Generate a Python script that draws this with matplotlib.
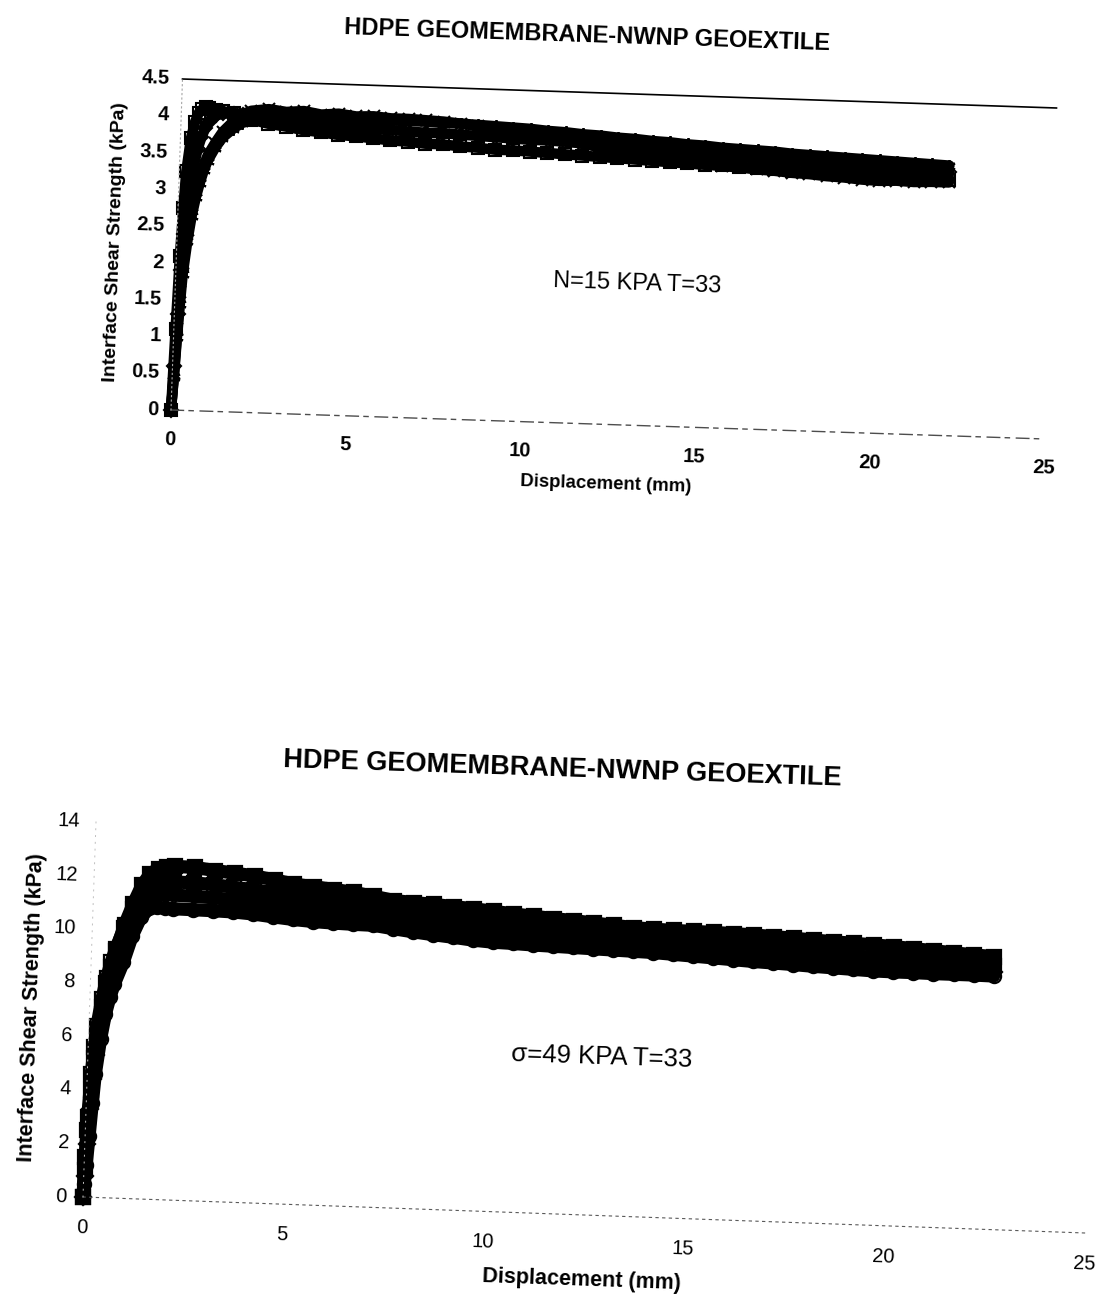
import numpy as np
import matplotlib
matplotlib.use("Agg")
import matplotlib.pyplot as plt
from matplotlib.transforms import Affine2D
import mpl_toolkits.axisartist.floating_axes as floating_axes
from mpl_toolkits.axisartist.grid_finder import FixedLocator, DictFormatter

plt.rcParams['font.family'] = ['Liberation Sans', 'DejaVu Sans']

# ---------------- upper test: normal stress 15 kPa ----------------
title_15 = "HDPE GEOMEMBRANE-NWNP GEOEXTILE"
note_15 = "N=15 KPA T=33"
xlabel_15 = "Displacement (mm)"
ylabel_15 = "Interface Shear Strength (kPa)"
xticks_15 = [0, 5, 10, 15, 20, 25]
xtick_labels_15 = ["0", "5", "10", "15", "20", "25"]
yticks_15 = [0, 0.5, 1, 1.5, 2, 2.5, 3, 3.5, 4, 4.5]
ytick_labels_15 = ["0", "0.5", "1", "1.5", "2", "2.5", "3", "3.5", "4", "4.5"]

disp_15 = [0, 0.05, 0.1, 0.15, 0.2, 0.3, 0.4, 0.5, 0.6, 0.7, 0.8, 1.0, 1.2, 1.5, 1.75,
           2.0, 2.5, 3.0, 3.5, 4.0, 4.5, 5.0, 5.5, 6.0, 6.5, 7.0, 7.5, 8.0, 8.5, 9.0,
           9.5, 10.0, 10.5, 11.0, 11.5, 12.0, 12.5, 13.0, 13.5, 14.0, 14.5, 15.0, 15.5,
           16.0, 16.5, 17.0, 17.5, 18.0, 18.5, 19.0, 19.5, 20.0, 20.5, 21.0, 21.5, 22.0]

tau_15_diamond = [0, 0.6, 1.3, 1.9, 2.4, 2.95, 3.3, 3.55, 3.72, 3.84, 3.93, 4.02, 4.05, 4.05, 4.04,
                  4.02, 4.0, 3.98, 3.96, 3.94, 3.93, 3.92, 3.91, 3.9, 3.89, 3.88, 3.88, 3.87, 3.86,
                  3.85, 3.84, 3.83, 3.83, 3.82, 3.81, 3.79, 3.78, 3.77, 3.75, 3.74, 3.73, 3.71, 3.7,
                  3.69, 3.68, 3.67, 3.66, 3.65, 3.64, 3.63, 3.62, 3.61, 3.6, 3.59, 3.58, 3.58]
tau_15_square = [0, 1.1, 2.1, 2.75, 3.25, 3.7, 3.92, 4.05, 4.1, 4.13, 4.12, 4.1, 4.08, 4.06, 4.03,
                 3.98, 3.93, 3.9, 3.86, 3.84, 3.81, 3.8, 3.78, 3.76, 3.75, 3.73, 3.73, 3.71, 3.7,
                 3.68, 3.68, 3.67, 3.66, 3.65, 3.64, 3.63, 3.62, 3.61, 3.6, 3.59, 3.58, 3.57, 3.57,
                 3.56, 3.55, 3.54, 3.53, 3.52, 3.52, 3.51, 3.5, 3.5, 3.49, 3.49, 3.48, 3.48]
tau_15_cross = [0, 0.5, 1.1, 1.6, 2.0, 2.45, 2.8, 3.0, 3.2, 3.35, 3.48, 3.65, 3.8, 3.95, 4.05,
                4.1, 4.13, 4.1, 4.12, 4.08, 4.1, 4.07, 4.08, 4.06, 4.06, 4.05, 4.04, 4.02, 3.99,
                3.96, 3.92, 3.89, 3.86, 3.83, 3.8, 3.76, 3.73, 3.7, 3.66, 3.63, 3.6, 3.58, 3.56,
                3.55, 3.53, 3.52, 3.5, 3.49, 3.47, 3.46, 3.44, 3.43, 3.44, 3.43, 3.44, 3.44]
tau_15_star = [0, 0.45, 1.0, 1.45, 1.85, 2.3, 2.65, 2.9, 3.1, 3.27, 3.4, 3.58, 3.72, 3.85, 3.93,
               3.97, 3.99, 4.0, 4.01, 4.02, 4.02, 4.03, 4.03, 4.03, 4.03, 4.03, 4.02, 4.02, 4.01,
               4.0, 3.99, 3.98, 3.96, 3.95, 3.93, 3.92, 3.9, 3.89, 3.87, 3.86, 3.84, 3.83, 3.81,
               3.8, 3.79, 3.78, 3.76, 3.75, 3.74, 3.73, 3.72, 3.71, 3.7, 3.69, 3.68, 3.67]

# ---------------- lower test: normal stress 49 kPa ----------------
title_49 = "HDPE GEOMEMBRANE-NWNP GEOEXTILE"
note_49 = "\u03c3=49 KPA T=33"
xlabel_49 = "Displacement (mm)"
ylabel_49 = "Interface Shear Strength (kPa)"
xticks_49 = [0, 5, 10, 15, 20, 25]
xtick_labels_49 = ["0", "5", "10", "15", "20", "25"]
yticks_49 = [0, 2, 4, 6, 8, 10, 12, 14]
ytick_labels_49 = ["0", "2", "4", "6", "8", "10", "12", "14"]

disp_49 = [0, 0.02, 0.05, 0.1, 0.15, 0.2, 0.3, 0.4, 0.5, 0.6, 0.8, 1.0, 1.2, 1.4, 1.6, 1.8,
           2.0, 2.5, 3.0, 3.5, 4.0, 4.5, 5.0, 5.5, 6.0, 6.5, 7.0, 7.5, 8.0, 8.5, 9.0, 9.5,
           10.0, 10.5, 11.0, 11.5, 12.0, 12.5, 13.0, 13.5, 14.0, 14.5, 15.0, 15.5, 16.0,
           16.5, 17.0, 17.5, 18.0, 18.5, 19.0, 19.5, 20.0, 20.5, 21.0, 21.5, 22.0, 22.5]

tau_49_filled = [0, 1.0, 2.5, 4.0, 5.2, 6.0, 7.1, 8.0, 8.6, 9.2, 10.2, 11.0, 11.7, 12.15, 12.35, 12.42,
                 12.45, 12.44, 12.35, 12.28, 12.2, 12.08, 11.95, 11.88, 11.8, 11.72, 11.6, 11.47,
                 11.42, 11.38, 11.32, 11.27, 11.2, 11.13, 11.07, 11.01, 10.96, 10.9, 10.84, 10.78,
                 10.75, 10.73, 10.72, 10.71, 10.69, 10.67, 10.63, 10.6, 10.56, 10.52, 10.49, 10.46,
                 10.42, 10.37, 10.32, 10.27, 10.22, 10.18]
tau_49_square = [0, 1.5, 3.0, 4.6, 5.6, 6.4, 7.4, 8.2, 8.8, 9.3, 10.1, 10.8, 11.3, 11.6, 11.8, 11.85,
                 11.87, 11.86, 11.82, 11.75, 11.68, 11.6, 11.52, 11.45, 11.4, 11.34, 11.28, 11.2,
                 11.12, 11.05, 10.98, 10.92, 10.86, 10.8, 10.74, 10.68, 10.62, 10.57, 10.52, 10.47,
                 10.43, 10.39, 10.35, 10.31, 10.27, 10.23, 10.19, 10.15, 10.11, 10.07, 10.03, 9.99,
                 9.96, 9.93, 9.9, 9.87, 9.84, 9.82]
tau_49_diamond = [0, 0.8, 2.0, 3.3, 4.4, 5.3, 6.6, 7.5, 8.1, 8.6, 9.5, 10.3, 10.9, 11.2, 11.35, 11.38,
                  11.38, 11.36, 11.33, 11.28, 11.22, 11.15, 11.08, 11.02, 10.97, 10.93, 10.88, 10.8,
                  10.73, 10.66, 10.6, 10.54, 10.48, 10.44, 10.39, 10.35, 10.3, 10.26, 10.22, 10.18,
                  10.15, 10.11, 10.07, 10.03, 9.99, 9.95, 9.91, 9.88, 9.84, 9.81, 9.77, 9.74,
                  9.72, 9.69, 9.67, 9.65, 9.63, 9.62]
tau_49_circle = [0, 0.5, 1.2, 2.3, 3.5, 4.6, 5.9, 6.85, 7.5, 8.0, 8.8, 9.8, 10.5, 10.85, 10.9, 10.88,
                 10.87, 10.86, 10.85, 10.83, 10.78, 10.7, 10.63, 10.58, 10.55, 10.53, 10.52, 10.42,
                 10.33, 10.25, 10.18, 10.1, 10.05, 10.03, 10.0, 9.98, 9.96, 9.94, 9.92, 9.9,
                 9.88, 9.84, 9.8, 9.76, 9.72, 9.68, 9.65, 9.62, 9.58, 9.55, 9.52, 9.49,
                 9.48, 9.48, 9.47, 9.47, 9.47, 9.46]

W, H = 1102, 1302
fig = plt.figure(figsize=(W / 100, H / 100), dpi=100)
fig.patch.set_facecolor("white")

SKEW = -1.9  # the printed page sits slightly clockwise


def skewed_axes(origin, x_end, y_end, xmax, ymax, xticks, xlabels, yticks, ylabels):
    """Floating axes whose data box is placed on the page by an affine map.

    origin, x_end, y_end are page pixel positions (y downward) of the data
    points (0, 0), (xmax, 0) and (0, ymax).
    """
    ox, oy = origin[0], H - origin[1]
    xe = (x_end[0], H - x_end[1])
    ye = (y_end[0], H - y_end[1])
    a, d = (xe[0] - ox) / xmax, (xe[1] - oy) / xmax
    b, e = (ye[0] - ox) / ymax, (ye[1] - oy) / ymax
    tr = Affine2D(np.array([[a, b, ox], [d, e, oy], [0.0, 0.0, 1.0]]))
    gh = floating_axes.GridHelperCurveLinear(
        tr, extremes=(0, xmax, 0, ymax),
        grid_locator1=FixedLocator(xticks),
        grid_locator2=FixedLocator(yticks),
        tick_formatter1=DictFormatter(dict(zip(xticks, xlabels))),
        tick_formatter2=DictFormatter(dict(zip(yticks, ylabels))))
    ax = fig.add_axes([0, 0, 1, 1], axes_class=floating_axes.FloatingAxes,
                      grid_helper=gh)
    ax.set_xlim(0, W)
    ax.set_ylim(0, H)
    ax.patch.set_facecolor("none")
    for side in ("left", "right", "top", "bottom"):
        ax.axis[side].major_ticks.set_visible(False)
        ax.axis[side].minor_ticks.set_visible(False)
    ax.axis["right"].set_visible(False)
    ax.axis["top"].major_ticklabels.set_visible(False)
    aux = ax.get_aux_axes(tr)
    return ax, aux


# ---------------- upper chart ----------------
ax1, aux1 = skewed_axes((171, 410), (1045, 439), (182.5, 79), 25, 4.5,
                        xticks_15, xtick_labels_15, yticks_15, ytick_labels_15)
ax1.axis["top"].line.set_color("black")
ax1.axis["top"].line.set_linewidth(1.2)
ax1.axis["bottom"].line.set_color("0.3")
ax1.axis["bottom"].line.set_linewidth(1.0)
ax1.axis["bottom"].line.set_linestyle((0, (9, 4, 3, 5)))
ax1.axis["left"].line.set_color("0.65")
ax1.axis["left"].line.set_linewidth(0.8)
ax1.axis["left"].line.set_linestyle((0, (1, 3)))

for side in ("left", "bottom"):
    tl = ax1.axis[side].major_ticklabels
    tl.set_fontsize(14.5)
    tl.set_fontweight("bold")
ax1.axis["bottom"].major_ticklabels.set_pad(15)
ax1.axis["left"].major_ticklabels.set_pad(9)
ax1.axis["bottom"].label.set_text(xlabel_15)
ax1.axis["bottom"].label.set_fontsize(13.4)
ax1.axis["bottom"].label.set_fontweight("bold")
ax1.axis["bottom"].label.set_pad(12)
ax1.axis["left"].label.set_text(ylabel_15)
ax1.axis["left"].label.set_fontsize(14)
ax1.axis["left"].label.set_fontweight("bold")
ax1.axis["left"].label.set_pad(9)

series_15 = [
    (tau_15_diamond, dict(marker="D", ms=7)),
    (tau_15_square, dict(marker="s", ms=8)),
    (tau_15_star, dict(marker=(6, 2, 0), ms=9)),
    (tau_15_cross, dict(marker="x", ms=8.5)),
]
for tau, style in series_15:
    aux1.plot(disp_15, tau, color="black", lw=7.5, mfc="none", mec="black",
              mew=1.5, solid_joinstyle="round", solid_capstyle="round", **style)

aux1.text(13.2, 1.92, note_15, fontsize=17, ha="center", va="center",
          rotation=SKEW, rotation_mode="anchor")
fig.text(587 / W, 1 - 36 / H, title_15, fontsize=17, fontweight="bold",
         ha="center", va="center", rotation=SKEW, rotation_mode="anchor")

# ---------------- lower chart ----------------
ax2, aux2 = skewed_axes((83, 1197), (1085, 1233), (96, 822), 25, 14,
                        xticks_49, xtick_labels_49, yticks_49, ytick_labels_49)
ax2.axis["top"].set_visible(False)
ax2.axis["bottom"].line.set_color("0.35")
ax2.axis["bottom"].line.set_linewidth(0.8)
ax2.axis["bottom"].line.set_linestyle((0, (2, 4)))
ax2.axis["left"].line.set_color("0.75")
ax2.axis["left"].line.set_linewidth(0.7)
ax2.axis["left"].line.set_linestyle((0, (1, 6)))

for side in ("left", "bottom"):
    ax2.axis[side].major_ticklabels.set_fontsize(14.5)
ax2.axis["bottom"].major_ticklabels.set_pad(16)
ax2.axis["left"].major_ticklabels.set_pad(11.5)
ax2.axis["bottom"].label.set_text(xlabel_49)
ax2.axis["bottom"].label.set_fontsize(15.5)
ax2.axis["bottom"].label.set_fontweight("bold")
ax2.axis["bottom"].label.set_pad(13)
ax2.axis["left"].label.set_text(ylabel_49)
ax2.axis["left"].label.set_fontsize(15.5)
ax2.axis["left"].label.set_fontweight("bold")
ax2.axis["left"].label.set_pad(6)

series_49 = [
    (tau_49_circle, dict(marker="o", ms=9.5, mfc="none")),
    (tau_49_diamond, dict(marker="D", ms=8, mfc="none")),
    (tau_49_square, dict(marker="s", ms=9.5, mfc="none")),
    (tau_49_filled, dict(marker="s", ms=9.5, mfc="black")),
]
for tau, style in series_49:
    aux2.plot(disp_49, tau, color="black", lw=9.5, mec="black", mew=1.6,
              solid_joinstyle="round", solid_capstyle="round", **style)

aux2.text(12.8, 5.9, note_49, fontsize=18.5, ha="center", va="center",
          rotation=SKEW, rotation_mode="anchor")
fig.text(562 / W, 1 - 769 / H, title_49, fontsize=19.5, fontweight="bold",
         ha="center", va="center", rotation=SKEW, rotation_mode="anchor")

fig.savefig("out.png", dpi=100, facecolor="white")
